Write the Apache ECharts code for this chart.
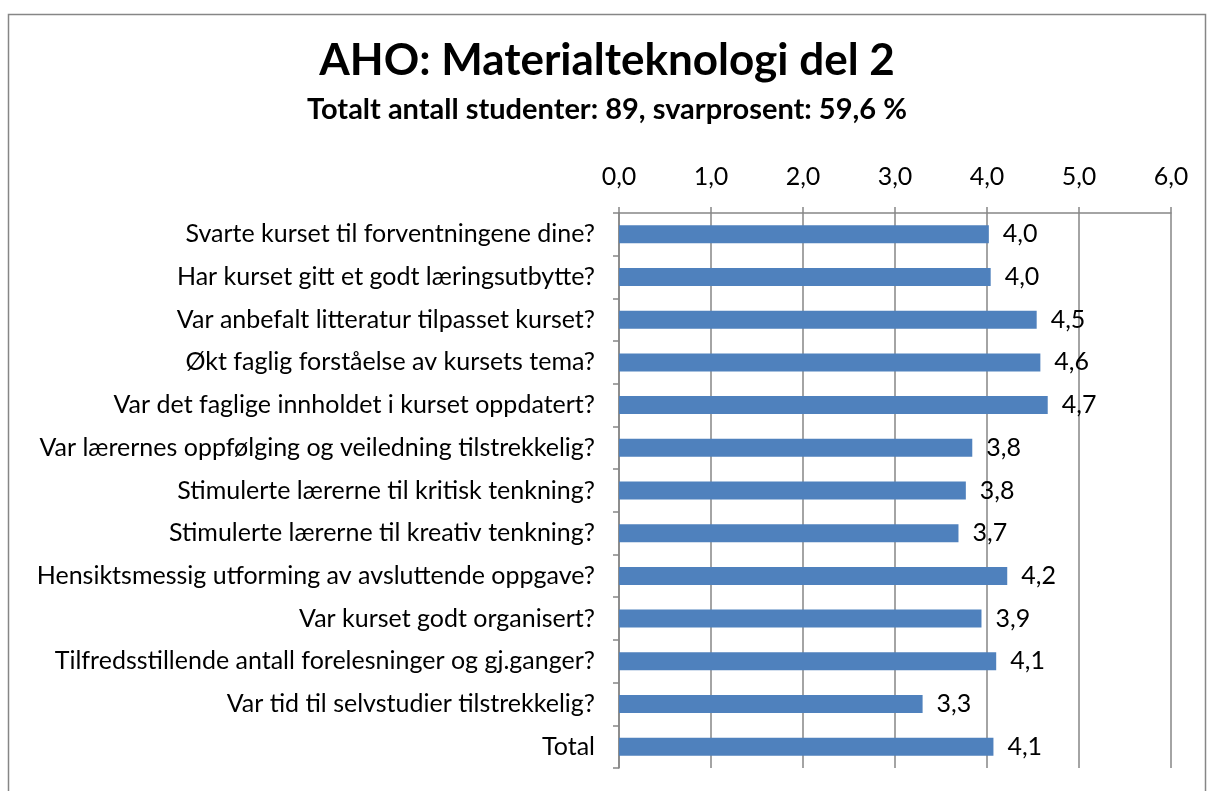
<!DOCTYPE html>
<html>
<head>
<meta charset="utf-8">
<script src="https://cdn.jsdelivr.net/npm/echarts@6/dist/echarts.min.js"></script>
<style>
  html, body { margin: 0; padding: 0; background: #fff; }
  #chart { width: 1214px; height: 791px; }
</style>
</head>
<body>
<div id="chart"></div>
<script>
// spørsmål (kategorier), ovenfra og ned
const questions = [
  'Svarte kurset til forventningene dine?',
  'Har kurset gitt et godt læringsutbytte?',
  'Var anbefalt litteratur tilpasset kurset?',
  'Økt faglig forståelse av kursets tema?',
  'Var det faglige innholdet i kurset oppdatert?',
  'Var lærernes oppfølging og veiledning tilstrekkelig?',
  'Stimulerte lærerne til kritisk tenkning?',
  'Stimulerte lærerne til kreativ tenkning?',
  'Hensiktsmessig utforming av avsluttende oppgave?',
  'Var kurset godt organisert?',
  'Tilfredsstillende antall forelesninger og gj.ganger?',
  'Var tid til selvstudier tilstrekkelig?',
  'Total',
]
// gjennomsnittsverdier
const scores = [4.02, 4.04, 4.54, 4.58, 4.66, 3.84, 3.77, 3.69, 4.22, 3.94, 4.10, 3.30, 4.07]
const axisMin = 0
const axisMax = 6
const axisStep = 1

const fmt = v => Number(v).toFixed(1).replace('.', ',')
const font = 'Lato, "Open Sans", sans-serif'
const lineGray = '#868686'

const chart = echarts.init(document.getElementById('chart'))

chart.setOption({
  animation: false,
  textStyle: { fontFamily: font },
  title: {
    text: 'AHO: Materialteknologi del 2',
    subtext: 'Totalt antall studenter: 89, svarprosent: 59,6 %',
    left: 'center',
    top: 34,
    itemGap: 12,
    textStyle: { fontFamily: font, fontSize: 44, fontWeight: 'bold', color: '#000' },
    subtextStyle: { fontFamily: font, fontSize: 29, fontWeight: 'bold', color: '#000' },
  },
  graphic: [
    {
      type: 'rect',
      shape: { x: 8.5, y: 14.5, width: 1197, height: 800 },
      style: { fill: 'none', stroke: lineGray, lineWidth: 1.5 },
      silent: true,
    },
  ],
  grid: { left: 619, right: 43, top: 213, bottom: 23 },
  xAxis: {
    type: 'value',
    position: 'top',
    min: axisMin,
    max: axisMax,
    interval: axisStep,
    axisLine: { show: true, lineStyle: { color: lineGray, width: 1.5 } },
    axisTick: { show: true, length: 6, lineStyle: { color: lineGray, width: 1.5 } },
    axisLabel: { formatter: fmt, color: '#000', fontSize: 25, margin: 24 },
    splitLine: { show: true, lineStyle: { color: lineGray, width: 1.5 } },
  },
  yAxis: {
    type: 'category',
    inverse: true,
    data: questions,
    axisLine: { show: true, lineStyle: { color: lineGray, width: 1.5 } },
    axisTick: { show: true, length: 6, lineStyle: { color: lineGray, width: 1.5 } },
    axisLabel: { color: '#000', fontSize: 25, margin: 24 },
  },
  series: [
    {
      type: 'bar',
      data: scores,
      barWidth: 18,
      itemStyle: { color: '#4F81BD' },
      label: {
        show: true,
        position: 'right',
        distance: 14,
        formatter: p => fmt(p.value),
        color: '#000',
        fontSize: 25,
      },
    },
  ],
})
</script>
</body>
</html>
